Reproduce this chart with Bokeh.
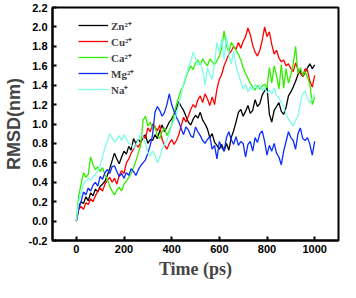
from bokeh.plotting import figure
from bokeh.models import Range1d, FixedTicker, PrintfTickFormatter, Legend, LegendItem
from bokeh.embed import file_html
from bokeh.resources import INLINE

time_ps = list(range(0, 1001, 10))

zn = [0.00,0.15,0.20,0.18,0.25,0.21,0.29,0.26,0.33,0.30,
      0.36,0.38,0.41,0.47,0.54,0.62,0.70,0.64,0.59,0.66,
      0.72,0.69,0.77,0.73,0.85,0.80,0.84,0.81,0.86,0.89,
      0.80,0.84,0.83,0.89,0.85,0.93,0.99,0.92,0.97,1.02,
      1.05,1.10,1.16,1.23,1.18,1.14,1.08,1.02,0.99,1.05,
      1.09,1.06,1.12,1.04,1.00,0.95,0.86,0.90,0.81,0.78,
      0.74,0.79,0.72,0.80,0.73,0.86,0.93,1.02,1.12,1.15,
      1.08,1.13,1.19,1.11,1.14,1.25,1.18,1.21,1.30,1.34,
      1.38,1.10,1.02,1.14,1.18,1.22,1.13,1.10,1.17,1.29,
      1.33,1.38,1.44,1.51,1.55,1.49,1.53,1.58,1.62,1.57,
      1.61]

cu = [0.00,0.12,0.15,0.12,0.19,0.17,0.23,0.20,0.26,0.31,
      0.34,0.31,0.38,0.42,0.45,0.40,0.44,0.38,0.47,0.52,
      0.49,0.60,0.64,0.70,0.74,0.79,0.76,0.81,0.88,0.85,
      0.96,0.92,1.00,0.97,0.93,0.99,0.84,0.78,0.74,0.80,
      0.84,0.79,0.83,0.89,0.98,1.07,1.02,1.08,1.15,1.20,
      1.17,1.25,1.29,1.22,1.31,1.26,1.19,1.28,1.20,1.36,
      1.46,1.51,1.60,1.66,1.72,1.75,1.80,1.77,1.84,1.78,
      1.85,1.90,1.99,1.92,1.81,1.74,1.70,1.76,1.86,2.00,
      1.90,1.95,1.82,1.72,1.76,1.68,1.64,1.66,1.60,1.62,
      1.57,1.54,1.63,1.56,1.52,1.49,1.57,1.55,1.44,1.38,
      1.50]

ca = [0.00,0.26,0.38,0.50,0.45,0.48,0.66,0.58,0.53,0.56,
      0.51,0.55,0.48,0.43,0.36,0.31,0.27,0.32,0.35,0.31,
      0.38,0.41,0.45,0.49,0.55,0.62,0.70,0.78,1.04,1.08,
      0.98,1.02,0.95,0.97,0.88,0.85,0.92,0.96,0.88,0.93,
      0.99,1.10,1.20,1.28,1.35,1.40,1.48,1.55,1.60,1.56,
      1.63,1.66,1.61,1.67,1.63,1.60,1.67,1.64,1.61,1.65,
      1.70,1.78,1.96,1.80,1.74,1.84,1.80,1.76,1.72,1.66,
      1.58,1.52,1.47,1.42,1.38,1.35,1.40,1.36,1.39,1.41,
      1.37,1.58,1.42,1.60,1.50,1.36,1.61,1.37,1.57,1.42,
      1.51,1.62,1.80,1.52,1.58,1.50,1.54,1.48,1.41,1.20,
      1.28]

mg = [0.00,0.12,0.20,0.30,0.27,0.34,0.31,0.37,0.40,0.36,
      0.46,0.43,0.50,0.53,0.49,0.56,0.57,0.51,0.46,0.49,
      0.44,0.50,0.47,0.54,0.51,0.47,0.53,0.57,0.60,0.63,
      0.70,0.78,0.89,1.12,1.18,1.14,1.08,1.12,1.20,1.31,
      1.20,1.13,1.07,1.02,0.95,0.89,0.97,0.94,0.88,0.86,
      0.97,0.92,0.88,0.83,0.80,0.84,0.87,0.74,0.78,0.64,
      0.82,0.76,0.72,0.86,0.92,0.84,0.79,0.87,0.78,0.82,
      0.80,0.66,0.79,0.82,0.72,0.86,0.81,0.90,0.93,0.82,
      0.68,0.78,0.72,0.80,0.70,0.66,0.58,0.72,0.82,0.92,
      0.86,0.83,0.74,0.90,0.96,0.85,0.83,0.86,0.79,0.68,
      0.82]

na = [0.00,0.20,0.30,0.38,0.41,0.44,0.42,0.46,0.48,0.52,
      0.58,0.66,0.76,0.82,0.90,0.86,0.81,0.84,0.88,0.83,
      0.89,0.85,0.80,0.79,0.75,0.78,0.84,0.90,0.86,0.80,
      0.70,0.67,0.72,0.68,0.60,0.66,0.74,0.79,0.83,0.90,
      0.98,1.04,1.10,1.20,1.30,1.42,1.50,1.58,1.64,1.74,
      1.68,1.61,1.64,1.55,1.40,1.58,1.51,1.46,1.63,1.84,
      1.74,1.88,1.66,1.90,1.72,1.62,1.75,1.60,1.52,1.44,
      1.36,1.41,1.33,1.38,1.35,1.41,1.36,1.40,1.34,1.38,
      1.32,1.35,1.31,1.37,1.29,1.27,1.22,1.18,1.10,1.05,
      1.01,0.98,1.04,1.08,1.22,1.31,1.34,1.26,1.22,1.27,
      1.31]

series_labels = ["Zn\u00b2\u207a", "Cu\u00b2\u207a", "Ca\u00b2\u207a", "Mg\u00b2\u207a", "Na\u207a"]
series_colors = ["#000000", "#ff0000", "#33ee00", "#0a2cff", "#7ffce8"]
x_ticks = [0, 200, 400, 600, 800, 1000]
y_ticks = [-0.2, 0.0, 0.2, 0.4, 0.6, 0.8, 1.0, 1.2, 1.4, 1.6, 1.8, 2.0, 2.2]

p = figure(width=340, height=282, output_backend="svg", toolbar_location=None,
           x_range=Range1d(-100, 1100), y_range=Range1d(-0.2, 2.2),
           min_border_left=44, min_border_right=2, min_border_top=7, min_border_bottom=42)
p.grid.visible = False
p.outline_line_color = "black"
p.outline_line_width = 2
p.background_fill_color = "white"
p.border_fill_color = "white"

renderers = []
for ys, c in zip([zn, cu, ca, mg, na], series_colors):
    r = p.line(time_ps, ys, line_color=c, line_width=1.3)
    renderers.append(r)

for ax in (p.xaxis[0], p.yaxis[0]):
    ax.axis_line_width = 2
    ax.major_tick_in = 4
    ax.major_tick_out = 0
    ax.major_tick_line_width = 2
    ax.minor_tick_line_color = None
    ax.major_label_text_font = "Liberation Sans"
    ax.major_label_text_font_style = "bold"
    ax.major_label_text_font_size = "11px"
    ax.major_label_text_color = "black"

p.xaxis.ticker = FixedTicker(ticks=x_ticks)
p.yaxis.ticker = FixedTicker(ticks=y_ticks)
p.yaxis.formatter = PrintfTickFormatter(format="%.1f")
p.xaxis.major_label_standoff = 4
p.yaxis.major_label_standoff = 5

p.xaxis.axis_label = "Time (ps)"
p.xaxis.axis_label_text_font = "Liberation Serif"
p.xaxis.axis_label_text_font_style = "bold"
p.xaxis.axis_label_text_font_size = "18px"
p.xaxis.axis_label_standoff = 3

p.yaxis.axis_label = "RMSD(nm)"
p.yaxis.axis_label_text_font = "Liberation Sans"
p.yaxis.axis_label_text_font_style = "bold"
p.yaxis.axis_label_text_font_size = "18px"
p.yaxis.axis_label_standoff = 2

items = [LegendItem(label=lab, renderers=[r]) for lab, r in zip(series_labels, renderers)]
legend = Legend(items=items, location=(26, 143), padding=0, spacing=0,
                glyph_width=30, glyph_height=16, label_height=16, label_standoff=3,
                border_line_alpha=0, background_fill_alpha=0,
                label_text_font="Liberation Serif", label_text_font_style="bold",
                label_text_font_size="11px")
p.add_layout(legend)

open("out.html", "w").write(file_html(p, INLINE))
